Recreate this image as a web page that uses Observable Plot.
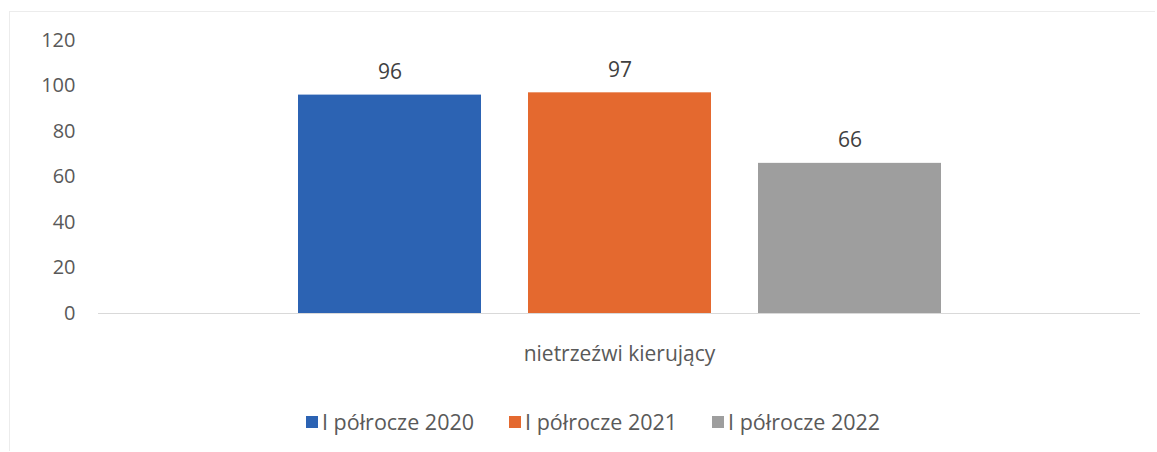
<!DOCTYPE html>
<html>
<head>
<meta charset="utf-8">
<script src="https://cdn.jsdelivr.net/npm/d3@7"></script>
<script src="https://cdn.jsdelivr.net/npm/@observablehq/plot@0.6"></script>
<style>
  html, body { margin: 0; padding: 0; background: #fff; }
  #frame { position: absolute; left: 9px; top: 11px; width: 1146px; height: 440px; border: 1px solid #ececec; border-right: none; border-bottom: none; box-sizing: border-box; }
  #chart { position: absolute; left: 0; top: 0; }
  #legend { position: absolute; left: 306px; top: 407px; display: flex; font-family: "Open Sans", sans-serif; font-size: 21.5px; color: #595959; }
  .item { display: flex; align-items: center; margin-right: 35px; }
  .sw { width: 12px; height: 12px; margin-right: 4px; }
</style>
</head>
<body>
<div id="frame"></div>
<div id="chart"></div>
<div id="legend"></div>
<script>
const categories = ["nietrzeźwi kierujący"];
const series = ["I półrocze 2020", "I półrocze 2021", "I półrocze 2022"];
const values = [96, 97, 66];
const colors = ["#2c63b3", "#e4692f", "#9e9e9e"];
const yTicks = [0, 20, 40, 60, 80, 100, 120];

const data = series.map((s, i) => ({category: categories[0], series: s, value: values[i]}));

const chart = Plot.plot({
  width: 1157,
  height: 385,
  marginTop: 40,
  marginBottom: 72,
  marginLeft: 98,
  marginRight: 17,
  style: {fontFamily: "'Open Sans', sans-serif", fontSize: "20px", color: "#595959", background: "transparent"},
  fx: {domain: categories, padding: 0, label: null},
  x: {domain: series, axis: null, paddingInner: 0.206, paddingOuter: 0.863},
  y: {domain: [0, 120], label: null},
  color: {domain: series, range: colors},
  marks: [
    Plot.axisY(yTicks, {tickSize: 0, tickPadding: 23, fontSize: 20, label: null}),
    Plot.axisFx({anchor: "bottom", tickSize: 0, tickPadding: 33, fontSize: 21, label: null}),
    Plot.barY(data, {fx: "category", x: "series", y: "value", fill: "series"}),
    Plot.ruleY([0], {stroke: "#d9d9d9", strokeWidth: 1.2}),
    Plot.text(data, {fx: "category", x: "series", y: "value", text: d => String(d.value), dy: -23, fill: "#404040", fontSize: 21})
  ]
});
document.getElementById("chart").appendChild(chart);

const legend = document.getElementById("legend");
series.forEach((s, i) => {
  const item = document.createElement("div");
  item.className = "item";
  const sw = document.createElement("span");
  sw.className = "sw";
  sw.style.background = colors[i];
  const label = document.createElement("span");
  label.textContent = s;
  item.appendChild(sw);
  item.appendChild(label);
  legend.appendChild(item);
});
</script>
</body>
</html>
